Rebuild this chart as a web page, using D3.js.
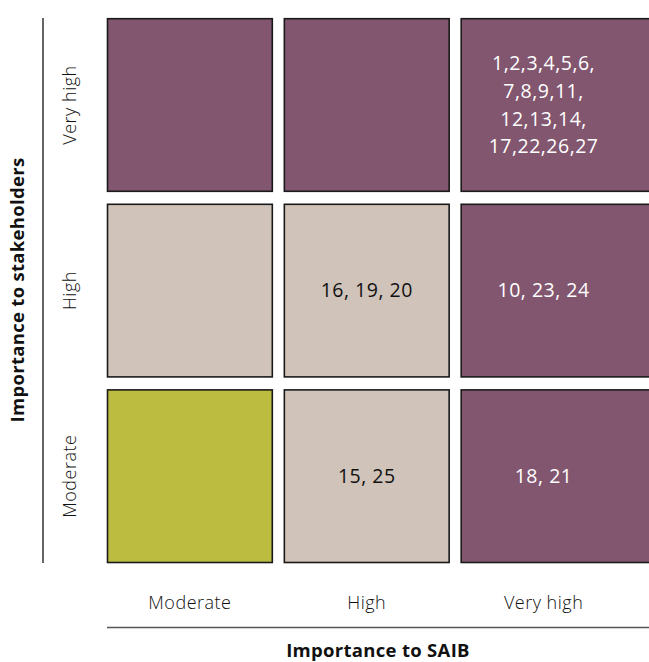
<!DOCTYPE html>
<html><head><meta charset="utf-8">
<script src="https://cdn.jsdelivr.net/npm/d3@7"></script>
<style>
html,body{margin:0;padding:0;background:#fff;}
svg{display:block;font-family:"Open Sans",sans-serif;}
</style></head>
<body>
<script>
const xLevels = ["Moderate", "High", "Very high"];      // Importance to SAIB
const yLevels = ["Very high", "High", "Moderate"];      // Importance to stakeholders (top to bottom)
const xTitle = "Importance to SAIB";
const yTitle = "Importance to stakeholders";
// priority level of each cell: rows = yLevels, cols = xLevels
const cellLevel = [
  ["top", "top", "top"],
  ["mid", "mid", "top"],
  ["low", "mid", "top"]
];
const cellLabels = [
  ["", "", "1,2,3,4,5,6,\n7,8,9,11,\n12,13,14,\n17,22,26,27"],
  ["", "16, 19, 20", "10, 23, 24"],
  ["", "15, 25", "18, 21"]
];
const levelColor = {top: "#82566F", mid: "#CFC3BA", low: "#BCBC40"};
const levelText = {top: "#ffffff", mid: "#111111", low: "#111111"};

const W = 649, H = 662;
const svg = d3.select("body").append("svg").attr("width", W).attr("height", H);

const x = d3.scaleBand().domain(xLevels).range([107.5, 626]).paddingInner(0.068);
const y = d3.scaleBand().domain(yLevels).range([18.7, 562.5]).paddingInner(0.07);

const cells = [];
yLevels.forEach((yl, i) => xLevels.forEach((xl, j) => cells.push({yl, xl, level: cellLevel[i][j], label: cellLabels[i][j], last: j === xLevels.length - 1})));

const g = svg.append("g");
g.selectAll("rect").data(cells).join("rect")
  .attr("x", d => x(d.xl))
  .attr("y", d => y(d.yl))
  .attr("width", d => d.last ? W - x(d.xl) + 5 : x.bandwidth())
  .attr("height", y.bandwidth())
  .attr("fill", d => levelColor[d.level])
  .attr("stroke", "#1a1a1a")
  .attr("stroke-width", 1.6);

const lh = 27.7;
g.selectAll("text.cell").data(cells.filter(d => d.label)).join("text")
  .attr("class", "cell")
  .attr("text-anchor", "middle")
  .attr("font-size", 19.5)
  .attr("letter-spacing", 0.5)
  .attr("fill", d => levelText[d.level])
  .each(function(d) {
    const lines = d.label.split("\n");
    const cx = x(d.xl) + x.bandwidth() / 2;
    const cy = y(d.yl) + y.bandwidth() / 2;
    const t = d3.select(this);
    lines.forEach((ln, k) => {
      t.append("tspan").attr("x", cx)
        .attr("y", cy + (k - (lines.length - 1) / 2) * lh)
        .attr("dy", "0.35em").text(ln);
    });
  });

// Column labels
svg.selectAll("text.xl").data(xLevels).join("text")
  .attr("class", "xl")
  .attr("x", d => x(d) + x.bandwidth() / 2)
  .attr("y", 603).attr("dy", "0.35em")
  .attr("text-anchor", "middle").attr("font-size", 18).attr("font-weight", 300).attr("fill", "#111")
  .attr("letter-spacing", 0.5)
  .text(d => d);

// Row labels (rotated)
svg.selectAll("text.yl").data(yLevels).join("text")
  .attr("class", "yl")
  .attr("transform", d => `translate(70,${y(d) + y.bandwidth() / 2}) rotate(-90)`)
  .attr("dy", "0.35em")
  .attr("text-anchor", "middle").attr("font-size", 18).attr("font-weight", 300).attr("fill", "#111")
  .attr("letter-spacing", 0.5)
  .text(d => d);

// Axis lines
svg.append("line").attr("x1", 43).attr("x2", 43).attr("y1", 18).attr("y2", 563)
  .attr("stroke", "#333").attr("stroke-width", 1.5);
svg.append("line").attr("x1", 107).attr("x2", W).attr("y1", 627.5).attr("y2", 627.5)
  .attr("stroke", "#555").attr("stroke-width", 1.5);

// Titles
svg.append("text").attr("x", 378).attr("y", 651).attr("dy", "0.35em")
  .attr("text-anchor", "middle").attr("font-size", 18.5).attr("font-weight", "bold").attr("fill", "#111")
  .attr("letter-spacing", 0.3)
  .text(xTitle);
svg.append("text").attr("transform", "translate(18,290) rotate(-90)").attr("dy", "0.35em")
  .attr("text-anchor", "middle").attr("font-size", 18.5).attr("font-weight", "bold").attr("fill", "#111")
  .attr("letter-spacing", 0.3)
  .text(yTitle);
</script>
</body></html>
